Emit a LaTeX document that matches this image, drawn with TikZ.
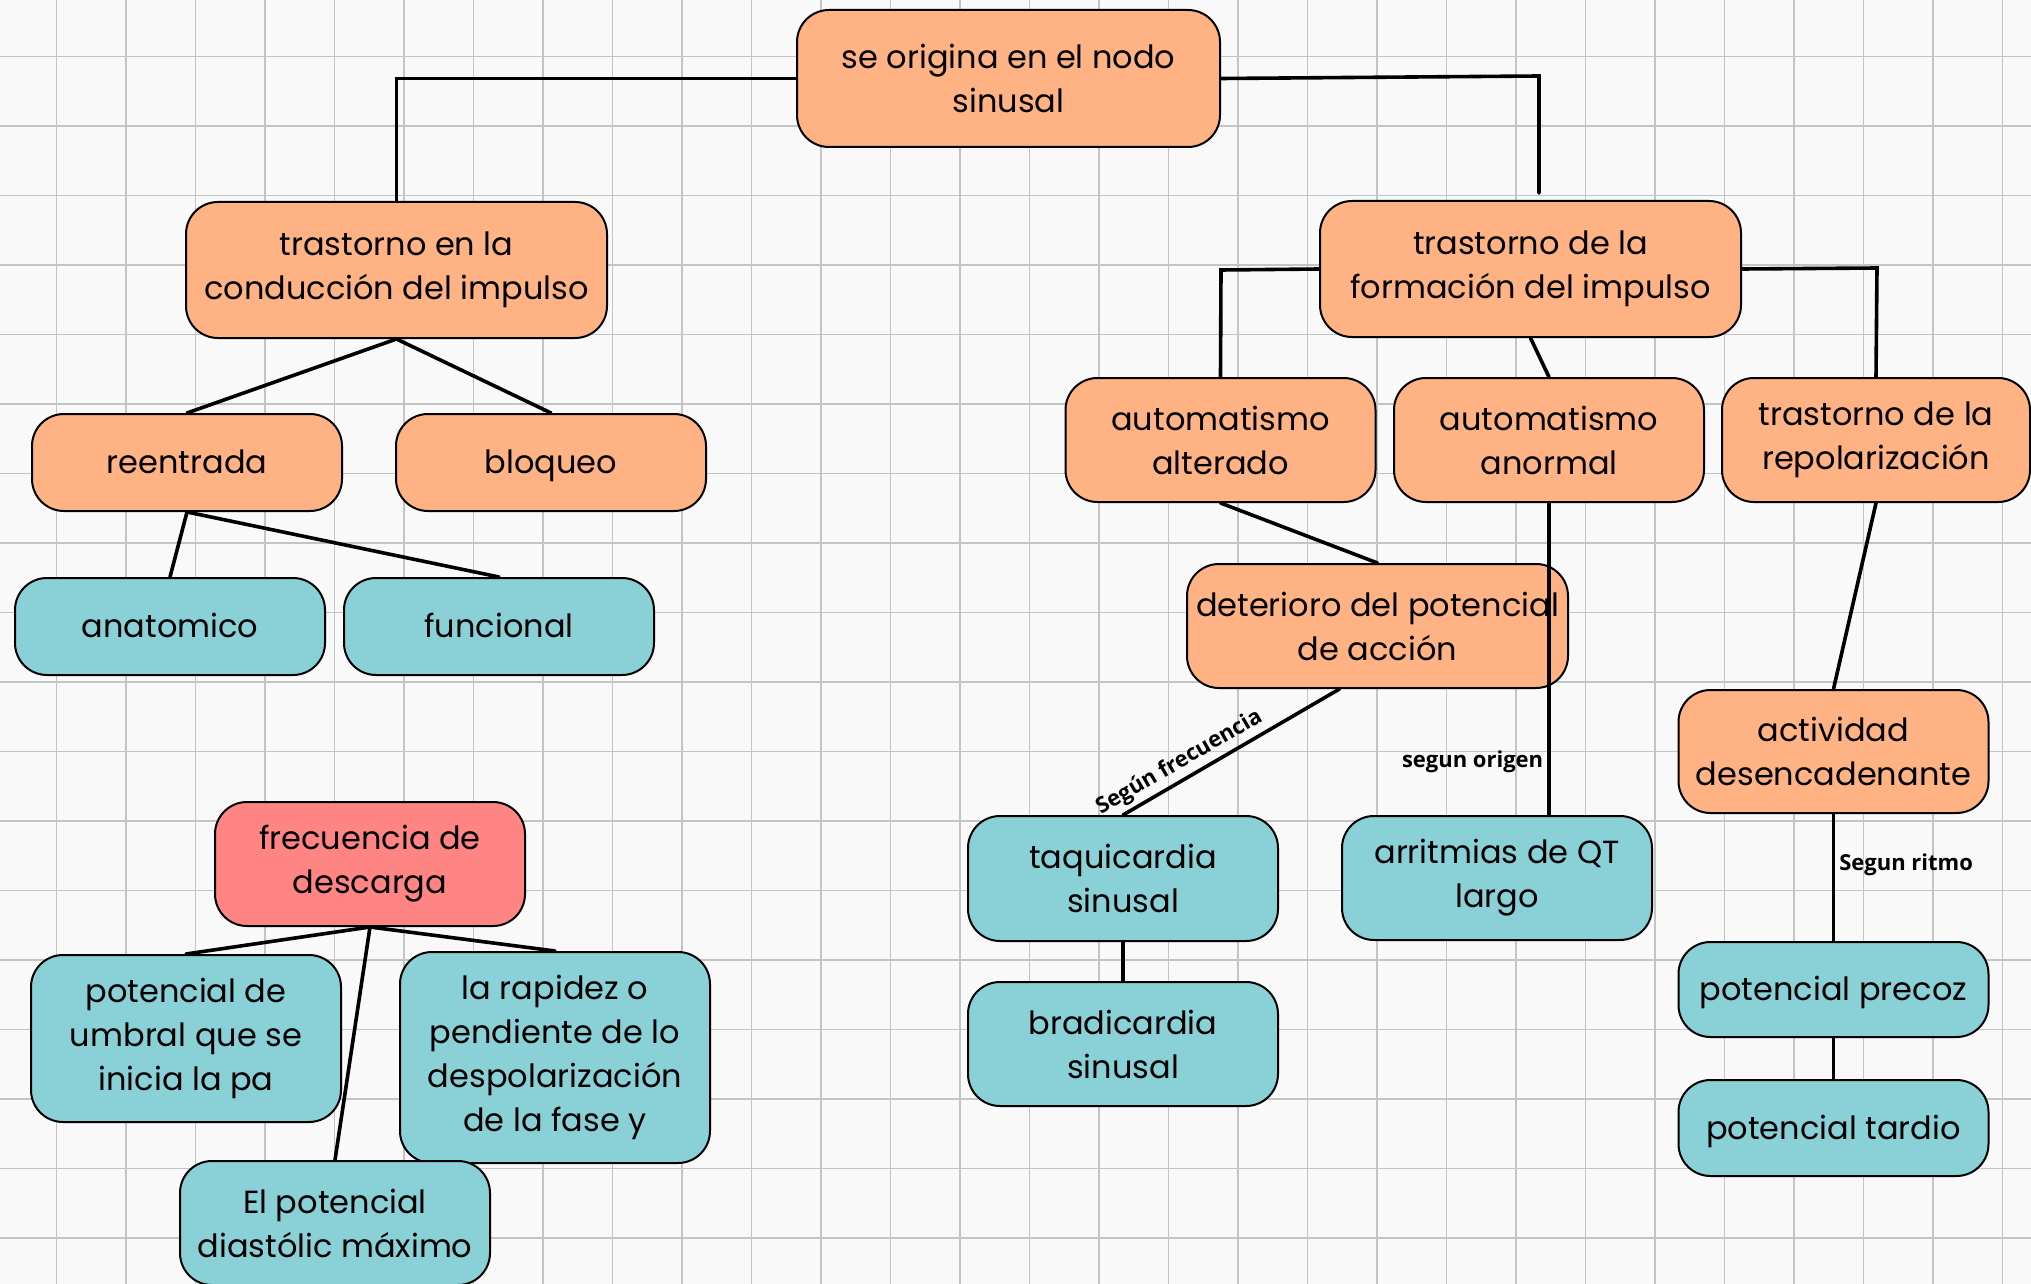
\documentclass[tikz,border=0pt]{standalone}
\usepackage{fontspec}
\setmainfont{Poppins}
\newfontfamily\labelfont{Open Sans}
\usetikzlibrary{calc}
\definecolor{bgc}{HTML}{F9F9F9}
\definecolor{gridc}{HTML}{C4C4C4}
\definecolor{peach}{HTML}{FFB385}
\definecolor{tealc}{HTML}{8AD1D7}
\definecolor{rose}{HTML}{FF8585}
\begin{document}
\begin{tikzpicture}[x=0.5pt,y=-0.5pt,
  box/.style={draw=black, line width=1pt, rounded corners=16pt, align=center, inner sep=0pt, font=\fontsize{16}{22}\selectfont},
  obox/.style={box, fill=peach},
  tbox/.style={box, fill=tealc},
  rbox/.style={box, fill=rose},
  single/.style={text height=14pt, text depth=2.6pt},
  conn/.style={line width=1.8pt, line cap=round},
  lab/.style={font=\labelfont\bfseries\fontsize{11}{13}\selectfont, inner sep=2pt},
]
\useasboundingbox (0,0) rectangle (2031,1284);
\fill[bgc] (0,0) rectangle (2031,1284);
\foreach \i in {0,...,28} \draw[gridc, line width=0.7pt] ({56.5+69.5*\i},0) -- ({56.5+69.5*\i},1284);
\foreach \j in {0,...,17} \draw[gridc, line width=0.7pt] (0,{56.5+69.5*\j}) -- (2031,{56.5+69.5*\j});

% nodes
\node[obox, minimum width=211.5pt, minimum height=68.5pt] (main) at (1008.5,78.5) {se origina en el nodo\\sinusal};
\node[obox, minimum width=210.5pt, minimum height=68pt] (tcond) at (396.5,270) {trastorno en la\\conducción del impulso};
\node[obox, minimum width=210.5pt, minimum height=68pt] (tform) at (1530.5,269) {trastorno de la\\formación del impulso};
\node[obox, single, minimum width=155pt, minimum height=48.5pt] (reentrada) at (187,462.5) {reentrada};
\node[obox, single, minimum width=155pt, minimum height=48.5pt] (bloqueo) at (551,462.5) {bloqueo};
\node[tbox, single, minimum width=155pt, minimum height=48.5pt] (anatomico) at (170,626.5) {anatomico};
\node[tbox, single, minimum width=155pt, minimum height=48.5pt] (funcional) at (499,626.5) {funcional};
\node[obox, minimum width=155pt, minimum height=62pt] (alterado) at (1220.5,440) {automatismo\\alterado};
\node[obox, minimum width=155pt, minimum height=62pt] (anormal) at (1549,440) {automatismo\\anormal};
\node[obox, minimum width=154pt, minimum height=62pt] (repol) at (1876,440) {trastorno de la\\repolarización};
\node[obox, minimum width=190.5pt, minimum height=62pt] (deterioro) at (1377.5,626) {deterioro del potencial\\de acción};
\node[obox, minimum width=155pt, minimum height=61.5pt] (actividad) at (1833.5,751.5) {actividad\\desencadenante};
\node[tbox, minimum width=155pt, minimum height=62.5pt] (taquicardia) at (1123,878.5) {taquicardia\\sinusal};
\node[tbox, minimum width=155pt, minimum height=62pt] (bradicardia) at (1123,1044) {bradicardia\\sinusal};
\node[tbox, minimum width=155pt, minimum height=62pt] (arritmias) at (1497,878) {arritmias de QT\\largo};
\node[tbox, single, minimum width=155pt, minimum height=47.5pt] (precoz) at (1833.5,989.5) {potencial precoz};
\node[tbox, single, minimum width=155pt, minimum height=48pt] (tardio) at (1833.5,1128) {potencial tardio};
\node[rbox, minimum width=155pt, minimum height=62pt] (frecuencia) at (370,864) {frecuencia de\\descarga};
\node[tbox, minimum width=155pt, minimum height=83.5pt] (umbral) at (186,1038.5) {potencial de\\umbral que se\\inicia la pa};
\node[tbox, minimum width=155pt, minimum height=105.5pt] (rapidez) at (555,1057.5) {la rapidez o\\pendiente de lo\\despolarización\\de la fase y};
\node[tbox, minimum width=155pt, minimum height=62pt] (diastolic) at (335,1223) {El potencial\\diastólic máximo};

% connectors
\coordinate (c2) at (1539,76);
\coordinate (c2e) at (1539,193);
\coordinate (c3) at (1221,270);
\coordinate (c4) at (1877,268);
\draw[conn] (main.west) -| (tcond.north);
\draw[conn] (main.east) -- (c2) -- (c2e);
\draw[conn] (tform.west) -- (c3) -- (alterado.north);
\draw[conn] (tform.east) -- (c4) -- (repol.north);
\draw[conn] (tcond.south) -- (reentrada.north);
\draw[conn] (tcond.south) -- (bloqueo.north);
\draw[conn] (reentrada.south) -- (anatomico.north);
\draw[conn] (reentrada.south) -- (funcional.north);
\draw[conn] (tform.south) -- (anormal.north);
\draw[conn] (alterado.south) -- (deterioro.north);
\draw[conn] (anormal.south) -- node[lab, left, pos=0.83] {segun origen} (anormal.south |- arritmias.north);
\draw[conn] ($(deterioro.south)+(-38,0)$) -- node[lab, sloped, above, pos=0.7] {Según frecuencia} (taquicardia.north);
\draw[conn] (taquicardia.south) -- (bradicardia.north);
\draw[conn] (repol.south) -- (actividad.north);
\draw[conn] (actividad.south) -- node[lab, right, pos=0.4] {Segun ritmo} (precoz.north);
\draw[conn] (precoz.south) -- (tardio.north);
\draw[conn] (frecuencia.south) -- (umbral.north);
\draw[conn] (frecuencia.south) -- (rapidez.north);
\draw[conn] (frecuencia.south) -- (diastolic.north);
\end{tikzpicture}
\end{document}
